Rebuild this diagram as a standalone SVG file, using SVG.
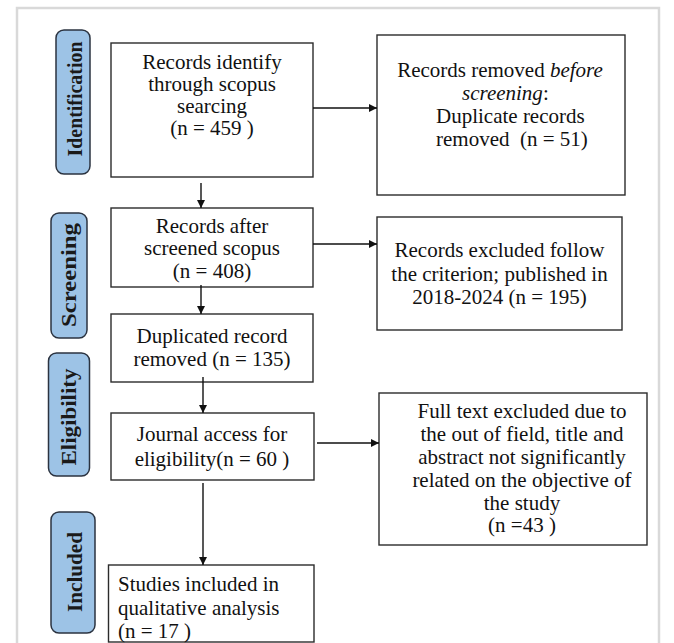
<svg xmlns="http://www.w3.org/2000/svg" width="674" height="643" viewBox="0 0 674 643">
<style>
.frame{fill:#ffffff;stroke:#d9d9d9;stroke-width:2.5}
.box{fill:#ffffff;stroke:#2b2b2b;stroke-width:1.4}
.lab{fill:#9dc3e6;stroke:#2b3340;stroke-width:1.5}
.t{font-family:"Liberation Serif","Times New Roman",serif;font-size:21px;fill:#111111}
.c{text-anchor:middle}
.lt{font-family:"Liberation Serif","Times New Roman",serif;font-size:20.5px;font-weight:bold;fill:#1a1a1a;text-anchor:middle}
.conn line{stroke:#111111;stroke-width:1.4;fill:none}
</style>
<defs>
<marker id="ah" markerUnits="userSpaceOnUse" markerWidth="9" markerHeight="8" refX="8" refY="4" orient="auto">
<path d="M0,0 L8,4 L0,8 z" fill="#111111"/>
</marker>
</defs>
<rect width="674" height="643" fill="#ffffff"/>
<rect class="frame" x="17" y="8" width="642" height="660"/>

<g id="label-identification">
<rect class="lab" x="56" y="30" width="34" height="144" rx="8"/>
<text class="lt" transform="translate(73,99) rotate(-90)" y="9" textLength="115" lengthAdjust="spacingAndGlyphs">Identification</text>
</g>
<g id="label-screening">
<rect class="lab" x="51" y="213" width="36" height="125" rx="8"/>
<text class="lt" transform="translate(69,275) rotate(-90)" y="7" textLength="104" lengthAdjust="spacingAndGlyphs">Screening</text>
</g>
<g id="label-eligibility">
<rect class="lab" x="48.5" y="353" width="41" height="123" rx="8"/>
<text class="lt" transform="translate(69,417) rotate(-90)" y="7" textLength="97" lengthAdjust="spacingAndGlyphs">Eligibility</text>
</g>
<g id="label-included">
<rect class="lab" x="51" y="512" width="44" height="121" rx="8"/>
<text class="lt" transform="translate(73,572) rotate(-90)" y="9" textLength="80" lengthAdjust="spacingAndGlyphs">Included</text>
</g>

<g id="node-identified">
<rect class="box" x="111" y="43" width="202" height="134"/>
<text class="t c" x="212" y="69">Records identify</text>
<text class="t c" x="212" y="91">through scopus</text>
<text class="t c" x="212" y="113">searcing</text>
<text class="t c" x="212" y="135">(n = 459 )</text>
</g>
<g id="node-removed-before">
<rect class="box" x="377" y="35" width="248" height="160"/>
<text class="t c" x="500" y="77">Records removed <tspan font-style="italic">before</tspan></text>
<text class="t" x="462" y="100"><tspan font-style="italic">screening</tspan>:</text>
<text class="t" x="436" y="123">Duplicate records</text>
<text class="t" x="436" y="146" xml:space="preserve">removed  (n = 51)</text>
</g>
<g id="node-screened">
<rect class="box" x="111" y="208" width="202" height="79"/>
<text class="t c" x="212" y="233">Records after</text>
<text class="t c" x="212" y="255">screened scopus</text>
<text class="t c" x="212" y="278">(n = 408)</text>
</g>
<g id="node-excluded">
<rect class="box" x="377" y="217" width="245" height="113"/>
<text class="t c" x="499.5" y="257">Records excluded follow</text>
<text class="t c" x="499.5" y="281">the criterion; published in</text>
<text class="t c" x="499.5" y="304">2018-2024 (n = 195)</text>
</g>
<g id="node-duplicated">
<rect class="box" x="111" y="314" width="202" height="68"/>
<text class="t c" x="212" y="343">Duplicated record</text>
<text class="t c" x="212" y="366">removed (n = 135)</text>
</g>
<g id="node-journal">
<rect class="box" x="111" y="413" width="203" height="67"/>
<text class="t c" x="212" y="441">Journal access for</text>
<text class="t c" x="212" y="466">eligibility(n = 60 )</text>
</g>
<g id="node-fulltext">
<rect class="box" x="379" y="393" width="268" height="152"/>
<text class="t c" x="522" y="418">Full text excluded due to</text>
<text class="t c" x="522" y="441">the out of field, title and</text>
<text class="t c" x="522" y="464">abstract not significantly</text>
<text class="t c" x="522" y="487">related on the objective of</text>
<text class="t c" x="522" y="510">the study</text>
<text class="t c" x="522" y="532">(n =43 )</text>
</g>
<g id="node-included">
<rect class="box" x="108.5" y="565" width="205.5" height="77"/>
<text class="t" x="118" y="591">Studies included in</text>
<text class="t" x="118" y="615">qualitative analysis</text>
<text class="t" x="118" y="638">(n = 17 )</text>
</g>

<g id="connectors" class="conn">
<line x1="313" y1="108" x2="377" y2="108" marker-end="url(#ah)"/>
<line x1="201" y1="183" x2="201" y2="208" marker-end="url(#ah)"/>
<line x1="313" y1="244" x2="377" y2="244" marker-end="url(#ah)"/>
<line x1="201" y1="285" x2="201" y2="314" marker-end="url(#ah)"/>
<line x1="203" y1="377" x2="203" y2="413" marker-end="url(#ah)"/>
<line x1="317" y1="443" x2="379" y2="443" marker-end="url(#ah)"/>
<line x1="203" y1="483" x2="203" y2="565" marker-end="url(#ah)"/>
</g>
</svg>
